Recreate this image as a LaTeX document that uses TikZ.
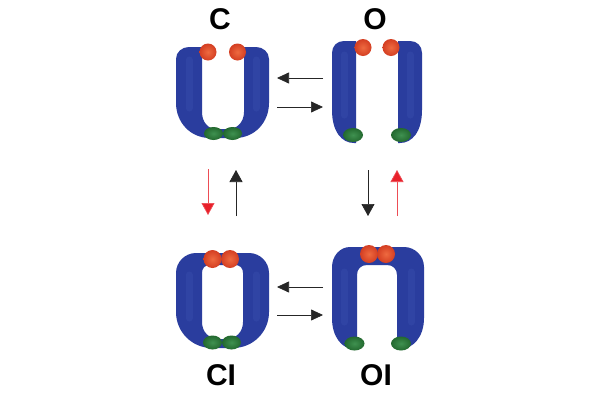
\documentclass[tikz,border=0pt]{standalone}
\usepackage{fontspec}
\setmainfont{Liberation Sans}
\usetikzlibrary{arrows.meta}
\definecolor{protblue}{HTML}{2A3D9E}
\definecolor{protlight}{HTML}{5068C4}
\definecolor{ballin}{HTML}{EE6A40}
\definecolor{ballout}{HTML}{D43E22}
\definecolor{grin}{HTML}{3F9150}
\definecolor{grout}{HTML}{23692F}
\definecolor{arrred}{HTML}{E8202A}
\tikzset{
  prot/.style={fill=protblue, even odd rule},
  hilite/.style={draw=protlight, line width=7pt, opacity=0.18, line cap=round},
  ballr/.style={inner color=ballin, outer color=ballout},
  gate/.style={inner color=grin, outer color=grout},
  lab/.style={font=\bfseries\fontsize{30}{30}\selectfont, inner sep=0pt, anchor=base},
  harr/.style={line width=0.7pt, draw=black!85, -{Triangle[length=12pt,width=11pt]}},
  varr/.style={line width=0.7pt, draw=black!85, -{Triangle[length=12pt,width=13pt]}},
  varred/.style={line width=0.7pt, draw=arrred!80, -{Triangle[length=12pt,width=13pt,fill=arrred]}},
}
\begin{document}
\begin{tikzpicture}[x=1pt,y=-1pt]
\useasboundingbox (0,0) rectangle (600,400);
\fill[white] (0,0) rectangle (600,400);

% labels
\node[lab] (lC) at (220,29) {C};
\node[lab] (lO) at (375,29) {O};
\node[lab] (lCI) at (221,385) {CI};
\node[lab] (lOI) at (376,385) {OI};

% ---- C state (U shape)
\fill[prot] (201,47) -- (189,47) .. controls (182,47) and (176,52) .. (176,59)
  -- (176,103) .. controls (176,122) and (190,138) .. (210,138)
  -- (235,138) .. controls (255,138) and (269,122) .. (269,103)
  -- (269,59) .. controls (269,52) and (263,47) .. (256,47)
  -- (244,47) -- (244,112) .. controls (244,123) and (236,129) .. (229,129)
  -- (216,129) .. controls (209,129) and (202,123) .. (202,112) -- (202,47) -- cycle;
\draw[hilite] (189,60) -- (189,108);
\draw[hilite] (256,60) -- (256,108);
\shade[ballr] (208,52) circle[radius=8.5];
\shade[ballr] (237.5,52) circle[radius=8.5];
\shade[gate] (213.5,133.5) ellipse[x radius=9.5, y radius=6.5];
\shade[gate] (232.5,133.5) ellipse[x radius=9.5, y radius=6.5];

% ---- O state (two arms)
\fill[prot] (356,41) -- (344,41) .. controls (337,41) and (332,46) .. (332,53)
  -- (332,110) .. controls (332,132) and (342,143) .. (354,143) -- (356,143) -- cycle;
\fill[prot] (398,41) -- (410,41) .. controls (417,41) and (422,46) .. (422,53)
  -- (422,110) .. controls (422,132) and (412,143) .. (400,143) -- (398,143) -- cycle;
\draw[hilite] (344,55) -- (344,115);
\draw[hilite] (410,55) -- (410,115);
\shade[ballr] (363,47.5) circle[radius=8.5];
\shade[ballr] (391,47.5) circle[radius=8.5];
\shade[gate] (353,135) ellipse[x radius=10, y radius=7];
\shade[gate] (401,135) ellipse[x radius=10, y radius=7];

% ---- CI state (closed ring)
\fill[prot] (222,253) -- (196,253) .. controls (185,253) and (176,262) .. (176,273)
  -- (176,312) .. controls (176,332) and (192,348) .. (212,348)
  -- (233,348) .. controls (253,348) and (269,332) .. (269,312)
  -- (269,273) .. controls (269,262) and (260,253) .. (249,253) -- cycle
  (202,273) .. controls (202,268) and (205,265) .. (210,265)
  -- (235,265) .. controls (240,265) and (243,268) .. (243,273)
  -- (243,322) .. controls (243,332) and (236,339) .. (226,339)
  -- (219,339) .. controls (209,339) and (202,332) .. (202,322) -- cycle;
\draw[hilite] (189,275) -- (189,318);
\draw[hilite] (256,275) -- (256,318);
\shade[ballr] (212.5,259) circle[radius=9];
\shade[ballr] (230,259) circle[radius=9];
\shade[gate] (212.5,342.5) ellipse[x radius=9.5, y radius=7];
\shade[gate] (231.5,342.5) ellipse[x radius=9.5, y radius=7];

% ---- OI state (arch)
\fill[prot] (357,340) -- (357,275) .. controls (357,269) and (361,265) .. (367,265)
  -- (387,265) .. controls (393,265) and (397,269) .. (397,275)
  -- (397,340) -- (400,349) .. controls (413,349) and (424,337) .. (424,318)
  -- (424,267) .. controls (424,256) and (415,247) .. (404,247)
  -- (350,247) .. controls (340,247) and (332,256) .. (332,267)
  -- (332,318) .. controls (332,337) and (342,349) .. (354,349) -- cycle;
\draw[hilite] (344,272) -- (344,322);
\draw[hilite] (411,272) -- (411,322);
\shade[ballr] (369,254) circle[radius=9];
\shade[ballr] (386,254) circle[radius=9];
\shade[gate] (354.5,343.5) ellipse[x radius=10, y radius=7];
\shade[gate] (401,343.5) ellipse[x radius=10, y radius=7];

% ---- arrow end points
\coordinate (a1s) at (323,78);  \coordinate (a1e) at (277,78);
\coordinate (a2s) at (277,107); \coordinate (a2e) at (323,107);
\coordinate (a3s) at (323,287); \coordinate (a3e) at (277,287);
\coordinate (a4s) at (277,315); \coordinate (a4e) at (323,315);
\coordinate (v1s) at (208,169); \coordinate (v1e) at (208,215);
\coordinate (v2s) at (236,216); \coordinate (v2e) at (236,170);
\coordinate (v3s) at (368,170); \coordinate (v3e) at (368,216);
\coordinate (v4s) at (397,216); \coordinate (v4e) at (397,170);

\draw[harr] (a1s) -- (a1e);
\draw[harr] (a2s) -- (a2e);
\draw[harr] (a3s) -- (a3e);
\draw[harr] (a4s) -- (a4e);
\draw[varred] (v1s) -- (v1e);
\draw[varr] (v2s) -- (v2e);
\draw[varr] (v3s) -- (v3e);
\draw[varred] (v4s) -- (v4e);
\end{tikzpicture}
\end{document}
